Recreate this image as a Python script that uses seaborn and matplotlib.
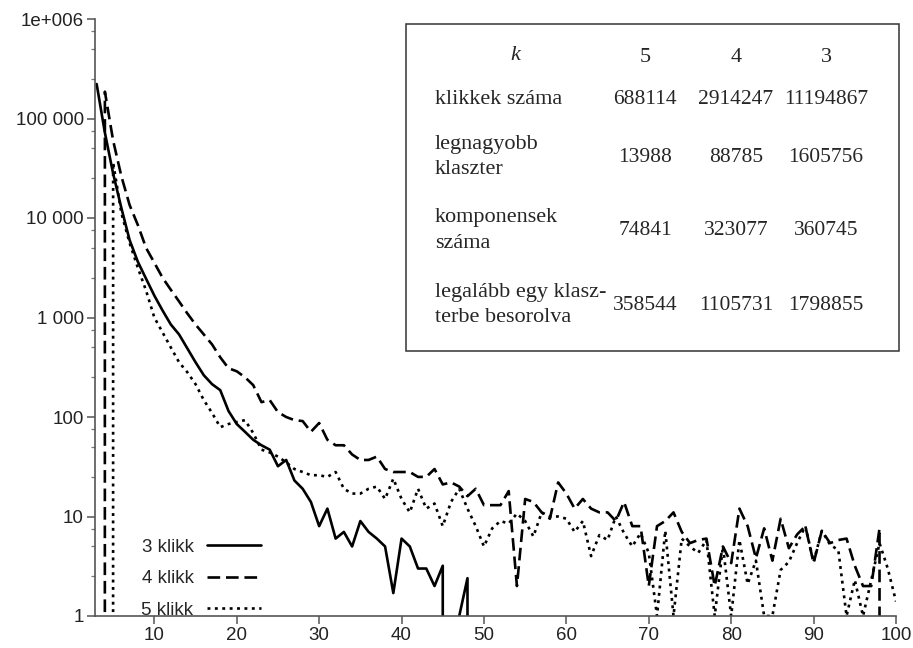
import numpy as np
import pandas as pd
import matplotlib
matplotlib.use('Agg')
import matplotlib.pyplot as plt
import seaborn as sns
from matplotlib.patches import Rectangle
from matplotlib.ticker import FixedLocator, FixedFormatter, LogLocator, NullFormatter

# --- adatok (leolvasva az abrarol) ---
k_3 = list(range(3, 50))
n_3 = [222000, 72000, 28000, 12600, 6000, 3630, 2450, 1660, 1175, 851,
       676, 490, 355, 263, 214, 186, 115, 85, 71, 59,
       52, 47, 32, 37, 23, 19, 14, 8, 12, 6,
       7, 5, 9, 7, 6, 5, 1.7, 6, 5, 3,
       3, 2, 3.2, 0, 1, 2.4, 0]

k_4 = list(range(3, 101))
n_4 = [0, 186000, 60000, 26300, 13500, 8500, 5000, 3550, 2510, 1900,
       1450, 1100, 850, 676, 537, 398, 309, 288, 251, 209,
       141, 148, 112, 100, 93, 91, 71, 87, 59, 52,
       52, 42, 37, 37, 40, 30, 28, 28, 28, 25,
       25, 30, 21, 22, 20, 16, 19, 13, 13, 13,
       18, 2, 15, 14, 11, 9.5, 22, 17, 12, 15,
       12, 11, 11, 9, 14, 8, 8, 2, 8, 9,
       11, 7, 5.4, 5.8, 6, 2, 5, 3.4, 12, 8,
       3.8, 7.6, 3.6, 9.5, 4.8, 6.6, 8, 3.4, 7.2, 5.4,
       5.8, 6, 3.2, 2, 2, 7.6, 0, 0]

k_5 = list(range(3, 101))
n_5 = [0, 0, 36000, 11200, 5600, 3160, 1860, 1000, 708, 500,
       355, 282, 214, 148, 110, 79, 85, 89, 93, 69,
       47, 44, 40, 35, 30, 28, 26, 26, 25, 28,
       19, 17, 17, 19, 20, 15, 24, 15, 11, 19,
       12, 13.5, 8, 14, 19, 12, 8, 5, 7.6, 9,
       8.5, 10.7, 9, 6.3, 11, 10, 10, 9.5, 7, 9,
       4, 6.5, 5.8, 10, 6.8, 5, 6.8, 4.3, 1, 7.2,
       1, 6, 5, 4.3, 5.8, 1, 5, 1, 5.8, 2.1,
       3.6, 1, 1, 2.9, 3.5, 5.4, 8, 3.5, 7.2, 5.2,
       4.6, 1, 2.3, 1, 2.3, 5.4, 3, 1.4]

series_names = ['3 klikk', '4 klikk', '5 klikk']

x_ticks = [10, 20, 30, 40, 50, 60, 70, 80, 90, 100]
y_ticks = [1, 10, 100, 1000, 10000, 100000, 1000000]
y_labels = ['1', '10', '100', '1 000', '10 000', '100 000', '1e+006']

# tablazat
table_head = ['5', '4', '3']
table_rows = ['klikkek száma', 'legnagyobb\nklaszter', 'komponensek\nszáma',
              'legalább egy klasz-\nterbe besorolva']
table_k5 = ['688114', '13988', '74841', '358544']
table_k4 = ['2914247', '88785', '323077', '1105731']
table_k3 = ['11194867', '1605756', '360745', '1798855']

df = pd.concat([
    pd.DataFrame({'k': k_3, 'n': n_3, 'series': series_names[0]}),
    pd.DataFrame({'k': k_4, 'n': n_4, 'series': series_names[1]}),
    pd.DataFrame({'k': k_5, 'n': n_5, 'series': series_names[2]}),
], ignore_index=True)

sns.set_style('ticks')
plt.rcParams['font.family'] = ['Liberation Sans', 'DejaVu Sans']

W, H = 913, 648
fx = lambda px: px / W
fy = lambda py: 1 - py / H

fig = plt.figure(figsize=(W / 100, H / 100), dpi=100)
ax = fig.add_axes([fx(95), 1 - 616 / H, (896 - 95) / W, (616 - 19) / H])

dash_map = {'3 klikk': '', '4 klikk': (4.8, 2.2), '5 klikk': (1.1, 1.7)}
sns.lineplot(data=df, x='k', y='n', style='series', dashes=dash_map,
             color='black', linewidth=1.9, estimator=None, sort=False, ax=ax)

ax.set_yscale('log')
ax.set_ylim(1, 1e6)
ax.set_xlim(2.8, 100)
ax.xaxis.set_major_locator(FixedLocator(x_ticks))
ax.yaxis.set_major_locator(FixedLocator(y_ticks))
ax.yaxis.set_major_formatter(FixedFormatter(y_labels))
ax.yaxis.set_minor_locator(LogLocator(base=10, subs=(2.5, 5.0, 7.5)))
ax.yaxis.set_minor_formatter(NullFormatter())
ax.set_xlabel('')
ax.set_ylabel('')
ax.grid(False)

sns.despine(ax=ax)
for s in ['left', 'bottom']:
    ax.spines[s].set_color('#555555')
    ax.spines[s].set_linewidth(1.2)
ax.tick_params(axis='both', which='major', length=6, width=1.1, color='#555555',
               labelsize=13.5, labelcolor='#222222', pad=2)
ax.tick_params(axis='y', which='minor', length=3, width=0.9, color='#777777')

sns.move_legend(ax, loc='upper left', bbox_to_anchor=(0.058, 0.130),
                frameon=False, title=None, markerfirst=False, fontsize=13.5,
                handlelength=2.9, handletextpad=0.7, labelspacing=0.78,
                borderpad=0, borderaxespad=0)
for h in ax.get_legend().legend_handles:
    h.set_linewidth(1.9)
    h.set_color('black')

# tablazat doboz
fig.add_artist(Rectangle((fx(406), fy(351)), (899 - 406) / W, (351 - 24) / H,
                         transform=fig.transFigure, fill=False,
                         edgecolor='#333333', linewidth=1.1))
serif = ['Liberation Serif', 'DejaVu Serif']
col_x = [645, 736, 826]
row_y = [100, 157, 231, 305]
fig.text(fx(515), fy(55), 'k', style='italic', family=serif, fontsize=16,
         ha='center', va='center')
for cx, h in zip(col_x, table_head):
    fig.text(fx(cx), fy(57), h, family=serif, fontsize=16, ha='center', va='center')
for ry, lab in zip(row_y, table_rows):
    fig.text(fx(435), fy(ry), lab, family=serif, fontsize=16, ha='left',
             va='center', linespacing=1.5)
for cx, col in zip(col_x, [table_k5, table_k4, table_k3]):
    for ry, v in zip(row_y, col):
        fig.text(fx(cx), fy(ry), v, family=serif, fontsize=15.5, ha='center', va='center')

fig.savefig('out.png', dpi=100, facecolor='white')
